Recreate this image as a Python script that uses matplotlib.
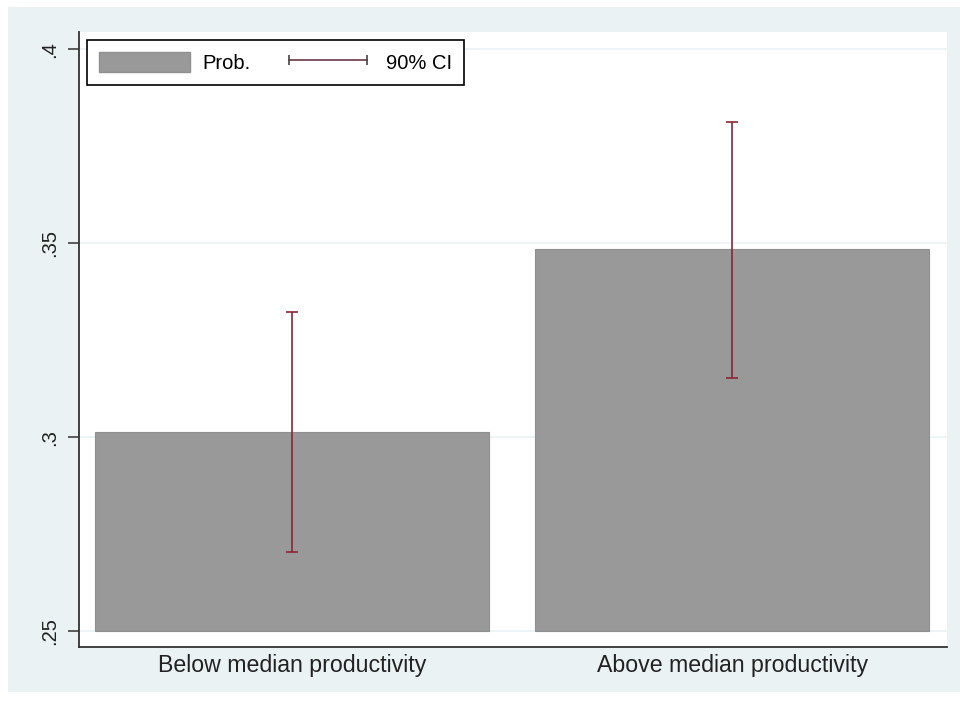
import matplotlib
matplotlib.use('Agg')
import matplotlib.pyplot as plt
from matplotlib.patches import Patch, Rectangle
from matplotlib.lines import Line2D

groups = ['Below median productivity', 'Above median productivity']
prob = [0.3013, 0.3485]
ci_low = [0.2704, 0.3152]
ci_high = [0.3322, 0.3812]
yticks = [0.25, 0.30, 0.35, 0.40]
yticklabels = ['.25', '.3', '.35', '.4']

plt.rcParams['font.family'] = ['Liberation Sans', 'DejaVu Sans']

bg = '#EAF2F3'
bar_color = '#999999'
ci_color = '#8B2535'

fig = plt.figure(figsize=(9.6, 7.02), dpi=100)
fig.patch.set_facecolor('white')
# Stata-like graph region behind the axes
fig.add_artist(Rectangle((8 / 960, 1 - 692 / 702), 1 - 8 / 960, (692 - 7) / 702,
                         transform=fig.transFigure, facecolor=bg, edgecolor='none', zorder=-5))

ax = fig.add_axes([79 / 960, 1 - 647 / 702, (947 - 79) / 960, (647 - 32) / 702])
ax.set_zorder(1)
ax.set_facecolor('white')

x = list(range(len(groups)))
base = 0.25
ax.bar(x, [p - base for p in prob], bottom=base, width=0.895,
       color=bar_color, edgecolor='#8f8f8f', linewidth=0.8, zorder=2)
yerr = [[p - lo for p, lo in zip(prob, ci_low)], [hi - p for p, hi in zip(prob, ci_high)]]
eb = ax.errorbar(x, prob, yerr=yerr, fmt='none', ecolor=ci_color, elinewidth=1.2,
                 capsize=4.5, capthick=1.2, zorder=3)
for cap in eb[1]:
    cap.set_color('#4a3a3e')

ax.set_xlim(-0.484, 1.488)
ax.set_ylim(0.2459, 0.4044)
ax.set_yticks(yticks)
ax.set_yticklabels(yticklabels, rotation=90, va='center', fontsize=14.5, color='#222222')
ax.set_xticks(x)
ax.set_xticklabels(groups, fontsize=16.7, color='#222222')
ax.tick_params(axis='x', length=0, pad=5)
ax.tick_params(axis='y', length=8, width=1.1, color='#333333', pad=6)

ax.set_axisbelow(True)
ax.yaxis.grid(True, color=bg, linewidth=1.2)
ax.xaxis.grid(False)

ax.spines['top'].set_visible(False)
ax.spines['right'].set_visible(False)
ax.spines['left'].set_color('#333333')
ax.spines['bottom'].set_color('#333333')
ax.spines['left'].set_linewidth(1.3)
ax.spines['bottom'].set_linewidth(1.3)

handles = [Patch(facecolor=bar_color, edgecolor='#8f8f8f'),
           Line2D([], [], color='#6a3a44', lw=1.2, marker='|', markersize=7,
                  markeredgecolor='#444444', markeredgewidth=1.2)]
leg = ax.legend(handles, ['Prob.', '90% CI'], ncol=2, loc='upper left',
                bbox_to_anchor=(87 / 960, 1 - 40 / 702), bbox_transform=fig.transFigure,
                borderaxespad=0, fancybox=False, edgecolor='black', framealpha=1,
                fontsize=14.5, numpoints=2, handlelength=4.5, handleheight=1.15,
                handletextpad=0.62, columnspacing=1.6, borderpad=0.6)
leg.get_frame().set_linewidth(1.2)

fig.savefig('out.png', dpi=100, facecolor=fig.get_facecolor())
